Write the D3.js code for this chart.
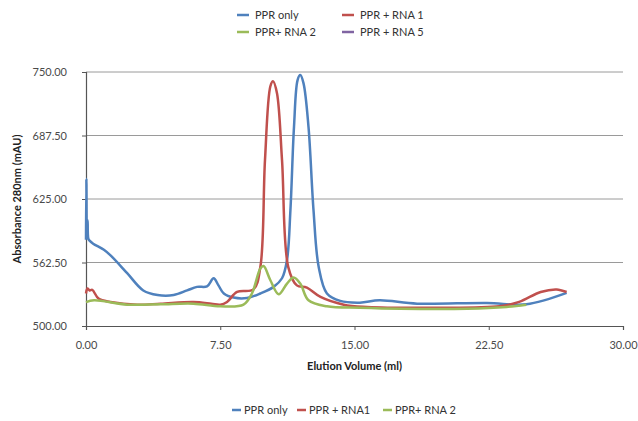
<!DOCTYPE html>
<html>
<head>
<meta charset="utf-8">
<script src="https://cdn.jsdelivr.net/npm/d3@7"></script>
<style>
  body { margin: 0; background: #fff; }
  text { font-family: Lato, "Open Sans", sans-serif; }
</style>
</head>
<body>
<div id="chart"></div>
<script>
// Series names and colours (legend order)
var seriesNames = ["PPR only", "PPR + RNA 1", "PPR+ RNA 2", "PPR + RNA 5"];
var bottomNames = ["PPR only", "PPR + RNA1", "PPR+ RNA 2"];
var colors = ["#4F81BD", "#C0504D", "#9BBB59", "#8064A2"];

// Axis ticks
var xTicks = [0, 7.5, 15, 22.5, 30];
var yTicks = [500, 562.5, 625, 687.5, 750];

// PPR only
var pprVol = [0, 0.02, 0.05, 0.09, 0.13, 0.2, 0.4, 1.0, 1.4, 2.3, 3.2, 4.0, 4.9, 5.65, 6.2, 6.76, 7.13, 7.4, 7.7, 8.25, 9.0, 9.74, 10.48, 10.95, 11.23, 11.42, 11.62, 11.82, 11.97, 12.15, 12.43, 12.71, 13.0, 13.46, 14.2, 15.3, 16.4, 18.5, 22.4, 24.6, 26.85];
var pprAbs = [585, 645, 588, 604, 586, 584, 581, 575, 569, 552, 535, 530.5, 530.5, 535, 538.5, 539, 547, 540, 532, 528, 527.6, 532, 538.5, 547, 565, 614, 696, 742, 747, 739, 696, 614, 558, 532, 524.7, 523, 525.3, 522, 522.7, 521.4, 532.6];

// PPR + RNA 1
var rna1Vol = [0, 0.08, 0.2, 0.35, 0.7, 1.37, 2.86, 4.16, 6.0, 7.0, 7.5, 7.88, 8.44, 9.36, 9.74, 10.0, 10.3, 10.45, 10.67, 10.95, 11.3, 11.78, 12.34, 13.1, 14.4, 15.7, 19.4, 23.1, 24.2, 25.4, 26.3, 26.85];
var rna1Abs = [532, 537, 535, 535.5, 527, 523.7, 521, 522, 523.7, 522, 521, 523.7, 533.5, 536, 558, 663.5, 736, 741, 729, 663.5, 558, 540, 537.8, 528.6, 521, 518.8, 518, 519.4, 523.7, 533.5, 536, 533.5];

// PPR+ RNA 2
var rna2Vol = [0, 0.45, 2.3, 4.16, 6.0, 7.5, 8.8, 9.27, 9.74, 9.92, 10.3, 10.76, 11.23, 11.6, 11.97, 12.43, 13.46, 15.3, 17.55, 21.3, 23.5, 24.6];
var rna2Abs = [523.5, 525.3, 521, 521.4, 522, 519.4, 521, 532, 556.6, 559, 545, 531.3, 541.8, 547.7, 541.8, 525.3, 519.4, 518, 517, 517, 518.8, 521];

var w = 638, h = 421;
var plotL = 86, plotR = 623, plotT = 72, plotB = 326;

var svg = d3.select("#chart").append("svg")
    .attr("width", w)
    .attr("height", h);

var xScale = d3.scaleLinear().domain([0, 30]).range([plotL, plotR]);
var yScale = d3.scaleLinear().domain([500, 750]).range([plotB, plotT]);

// gridlines
svg.selectAll("line.grid")
    .data(yTicks.slice(1))
    .enter()
    .append("line")
    .attr("class", "grid")
    .attr("x1", plotL)
    .attr("x2", plotR)
    .attr("y1", function(d) { return yScale(d); })
    .attr("y2", function(d) { return yScale(d); })
    .attr("stroke", "#9a9a9a")
    .attr("stroke-width", 1);

// y axis
var yAxis = svg.append("g")
    .attr("transform", "translate(" + plotL + ",0)")
    .call(d3.axisLeft(yScale).tickValues(yTicks).tickSize(4).tickPadding(15).tickFormat(d3.format(".2f")));

// x axis
var xAxis = svg.append("g")
    .attr("transform", "translate(0," + plotB + ")")
    .call(d3.axisBottom(xScale).tickValues(xTicks).tickSize(4).tickPadding(11).tickFormat(d3.format(".2f")));

[xAxis, yAxis].forEach(function(a) {
    a.select(".domain").attr("stroke", "#555").attr("stroke-width", 1.2);
    a.selectAll(".tick line").attr("stroke", "#555");
    a.selectAll(".tick text")
        .attr("fill", "#4a4a4a")
        .style("font-size", "11px")
        .style("font-family", "Lato, 'Open Sans', sans-serif");
});

// axis titles
svg.append("text")
    .attr("x", (plotL + plotR) / 2)
    .attr("y", 370)
    .attr("text-anchor", "middle")
    .attr("font-size", "11px")
    .attr("font-weight", "bold")
    .attr("fill", "#222")
    .text("Elution Volume (ml)");

svg.append("text")
    .attr("transform", "translate(21," + ((plotT + plotB) / 2) + ") rotate(-90)")
    .attr("text-anchor", "middle")
    .attr("font-size", "11px")
    .attr("font-weight", "bold")
    .attr("fill", "#222")
    .text("Absorbance 280nm (mAU)");

// lines
var series = [
    { vol: pprVol, abs: pprAbs, color: colors[0] },
    { vol: rna1Vol, abs: rna1Abs, color: colors[1] },
    { vol: rna2Vol, abs: rna2Abs, color: colors[2] }
];

var line = d3.line()
    .x(function(d) { return xScale(d[0]); })
    .y(function(d) { return yScale(d[1]); })
    .curve(d3.curveCatmullRom.alpha(0.5));

svg.selectAll("path.series")
    .data(series)
    .enter()
    .append("path")
    .attr("class", "series")
    .attr("d", function(s) {
        return line(s.vol.map(function(v, i) { return [v, s.abs[i]]; }));
    })
    .attr("fill", "none")
    .attr("stroke", function(s) { return s.color; })
    .attr("stroke-width", 2.5)
    .attr("stroke-linejoin", "round");

// top legend (2 x 2)
var topLegend = svg.selectAll("g.tleg")
    .data(seriesNames)
    .enter()
    .append("g")
    .attr("class", "tleg")
    .attr("transform", function(d, i) {
        return "translate(" + (i % 2 === 0 ? 237 : 342) + "," + (i < 2 ? 15 : 32) + ")";
    });

topLegend.append("line")
    .attr("x1", 0).attr("x2", 12)
    .attr("stroke", function(d, i) { return colors[i]; })
    .attr("stroke-width", 2.5);

topLegend.append("text")
    .attr("x", 18)
    .attr("dy", "0.35em")
    .attr("font-size", "11px")
    .attr("fill", "#333")
    .text(function(d) { return d; });

// bottom legend (one row)
var bx = [232, 297, 383];
var bottomLegend = svg.selectAll("g.bleg")
    .data(bottomNames)
    .enter()
    .append("g")
    .attr("class", "bleg")
    .attr("transform", function(d, i) { return "translate(" + bx[i] + ",410)"; });

bottomLegend.append("line")
    .attr("x1", 0).attr("x2", 9)
    .attr("stroke", function(d, i) { return colors[i]; })
    .attr("stroke-width", 2.5);

bottomLegend.append("text")
    .attr("x", 12)
    .attr("dy", "0.35em")
    .attr("font-size", "11px")
    .attr("fill", "#333")
    .text(function(d) { return d; });
</script>
</body>
</html>
